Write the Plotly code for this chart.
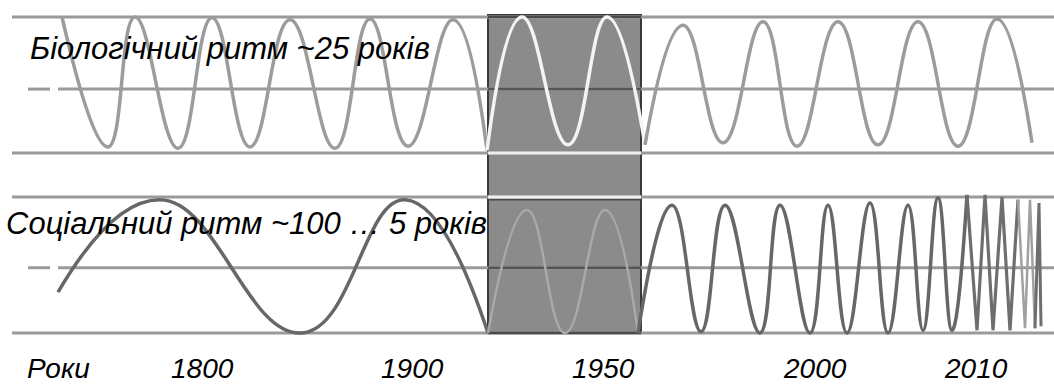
import plotly.graph_objects as go

# ---- data (schematic timeline units, normalised amplitude) ----
# Biological rhythm ~25 years: positions of turning points and their amplitude
bio_x = [62, 108, 135, 178, 212, 250, 290, 335, 370, 408, 453, 487, 522, 568, 607, 645,
         683, 723, 763, 797, 838, 878, 918, 958, 997, 1032]
bio_y = [1.0, -0.91, 1.0, -0.93, 0.99, -0.91, 0.96, -0.93, 0.97, -0.90, 0.96, -0.96, 1.0,
         -0.88, 1.0, -0.88, 0.88, -0.85, 0.93, -0.90, 0.93, -0.88, 0.93, -0.90, 0.97, -0.85]

# Social rhythm ~100 ... 5 years
soc_x = [58, 160, 302, 405, 488, 527, 565, 605, 638, 672, 701, 725, 760, 780, 810, 828, 847,
         870, 888, 908, 923, 938, 952, 967, 977, 985, 993, 1002, 1010, 1018, 1025, 1030, 1035,
         1039, 1041]
soc_y = [-0.40, 0.96, -1.0, 0.96, -1.0, 0.81, -1.0, 0.81, -1.0, 0.88, -0.98, 0.88, -1.0,
         0.88, -1.0, 0.88, -1.0, 0.91, -1.0, 0.88, -0.96, 0.99, -0.96, 1.03, -0.96, 1.03,
         -0.96, 1.0, -0.96, 0.96, -0.93, 0.96, -0.93, 0.91, -0.90]

# Highlighted period (shaded band) on the timeline
band_x = [488, 641]

# Axis labels
year_labels = ["Роки", "1800", "1900", "1950", "2000", "2010"]
year_pos = [58, 202, 412, 603, 815, 976]

bio_title = "Біологічний ритм ~25 років"
soc_title = "Соціальний ритм ~100 … 5 років"

# ---- layout geometry ----
W, H = 1054, 385
FONT = "Liberation Sans, Arial, sans-serif"


def seg(xs, ys, lo, hi):
    px = [x for x in xs if lo <= x <= hi]
    py = [y for x, y in zip(xs, ys) if lo <= x <= hi]
    return px, py


fig = go.Figure()


def add_wave(xs, ys, lo, hi, color, width, yaxis, shape="spline"):
    px, py = seg(xs, ys, lo, hi)
    fig.add_trace(go.Scatter(
        x=px, y=py, mode="lines", yaxis=yaxis,
        line=dict(color=color, width=width, shape=shape, smoothing=1.3),
        hoverinfo="skip", showlegend=False, cliponaxis=False))


# biological wave
add_wave(bio_x, bio_y, 0, 487, "#9c9c9c", 3.5, "y")
add_wave(bio_x, bio_y, 487, 645, "#f4f4f4", 3.5, "y")
add_wave(bio_x, bio_y, 645, 1054, "#9c9c9c", 3.5, "y")

# social wave
add_wave(soc_x, soc_y, 0, 488, "#676767", 3.5, "y2")
add_wave(soc_x, soc_y, 488, 638, "#a9a9a9", 2.5, "y2")
add_wave(soc_x, soc_y, 638, 967, "#676767", 3.5, "y2")
add_wave(soc_x, soc_y, 967, 1018, "#6e6e6e", 3.2, "y2", shape="linear")
add_wave(soc_x, soc_y, 1018, 1035, "#a0a0a0", 2.5, "y2", shape="linear")
add_wave(soc_x, soc_y, 1035, 1041, "#6e6e6e", 3, "y2", shape="linear")

shapes = []
LINE_C = "#9a9a9a"


def hline(x0, x1, y, yref, color=LINE_C, width=3):
    shapes.append(dict(type="line", xref="x", yref=yref, x0=x0, x1=x1, y0=y, y1=y,
                       line=dict(color=color, width=width), layer="below"))


# top panel guide lines
hline(12, 1054, 1.0, "y")
hline(28, 50, -0.06, "y")
hline(58, 1054, -0.06, "y")
hline(12, 1054, -1.0, "y")
# bottom panel guide lines
hline(12, 1054, 1.0, "y2")
hline(28, 50, -0.04, "y2")
hline(58, 1054, -0.04, "y2")
hline(12, 1054, -1.0, "y2")

# shaded band
shapes.append(dict(type="rect", xref="x", yref="paper", x0=band_x[0], x1=band_x[1],
                   y0=1 - 333 / H, y1=1 - 15 / H,
                   fillcolor="#8b8b8b", line=dict(color="#3a3a3a", width=2), layer="below"))
# guide lines inside band
hline(band_x[0], band_x[1], 1.0, "y", color="#4a4a4a", width=2)
hline(band_x[0], band_x[1], -0.06, "y", color="#555555", width=2.5)
hline(band_x[0], band_x[1], -1.0, "y", color="#f0f0f0", width=3)
hline(band_x[0], band_x[1], 1.0, "y2", color="#f0f0f0", width=3)
hline(band_x[0], band_x[1], 0.96, "y2", color="#4a4a4a", width=1.5)
hline(band_x[0], band_x[1], -0.04, "y2", color="#555555", width=2.5)
hline(band_x[0], band_x[1], -1.0, "y2", color="#4a4a4a", width=2.5)

annotations = [
    dict(x=28, y=1 - 48 / H, xref="x", yref="paper", text=bio_title, showarrow=False,
         xanchor="left", yanchor="middle",
         font=dict(family=FONT, size=31, color="#000", style="italic")),
    dict(x=4, y=1 - 223 / H, xref="x", yref="paper", text=soc_title, showarrow=False,
         xanchor="left", yanchor="middle",
         font=dict(family=FONT, size=31, color="#000", style="italic")),
]
for lab, pos in zip(year_labels, year_pos):
    annotations.append(dict(x=pos, y=1 - 368 / H, xref="x", yref="paper", text=lab,
                            showarrow=False, xanchor="center", yanchor="middle",
                            font=dict(family=FONT, size=28, color="#000", style="italic")))

fig.update_layout(
    width=W, height=H,
    margin=dict(l=0, r=0, t=0, b=0),
    paper_bgcolor="white", plot_bgcolor="white",
    xaxis=dict(range=[0, W], visible=False, fixedrange=True),
    yaxis=dict(range=[-1.25, 1.25], domain=[1 - 170 / H, 1.0], visible=False),
    yaxis2=dict(range=[-1.25, 1.25], domain=[1 - 350 / H, 1 - 180 / H], visible=False),
    shapes=shapes, annotations=annotations,
    showlegend=False,
)

fig.write_html("out.html", config={"displayModeBar": False},
               post_script="document.body.style.margin='0px';document.body.style.overflow='hidden';")
